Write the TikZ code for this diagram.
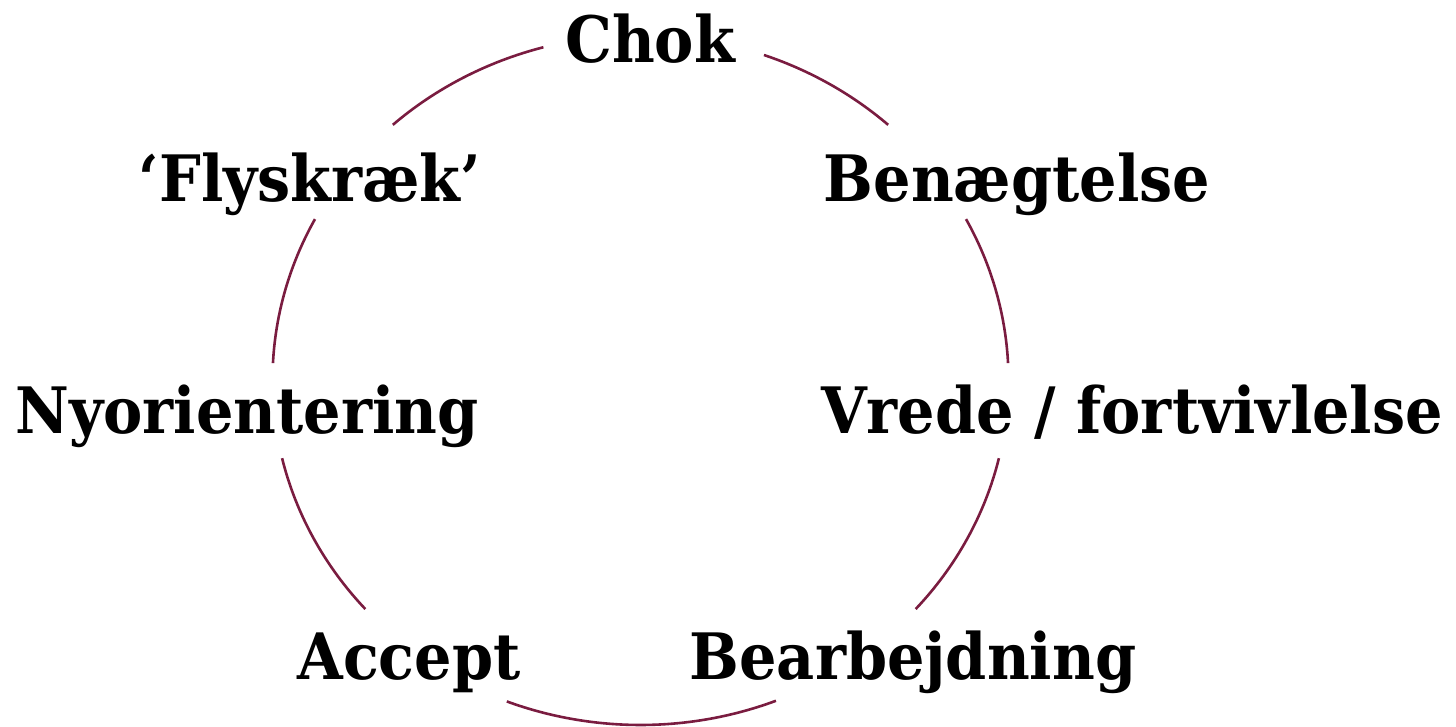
\documentclass[tikz,border=0pt]{standalone}
\usepackage{fontspec}
\newfontfamily\lblfont{DejaVu Serif}[FakeStretch=0.92]
\definecolor{ringcol}{RGB}{122,28,64}
\tikzset{
  lbl/.style={anchor=base, inner sep=0pt, font=\lblfont\bfseries\fontsize{64}{70}\selectfont},
  ring/.style={draw=ringcol, line width=2.6pt},
}
\newcommand{\cyclearc}[2]{\draw[ring] ([shift={(#1:368pt and 345pt)}]ctr) arc[start angle=#1, end angle=#2, x radius=368pt, y radius=345pt];}
\begin{document}
\begin{tikzpicture}[x=1pt,y=1pt]
\useasboundingbox (0,0) rectangle (1456,-726);
\coordinate (ctr) at (640.5,-380);
\node[lbl] (chok) at (650,-62) {Chok};
\node[lbl] (fly) at (310,-201) {‘Flyskræk’};
\node[lbl] (ben) at (1017,-201) {Benægtelse};
\node[lbl] (nyo) at (247,-433) {Nyorientering};
\node[lbl] (vre) at (1132,-433) {Vrede / fortvivlelse};
\node[lbl] (acc) at (409,-679) {Accept};
\node[lbl] (bea) at (913,-679) {Bearbejdning};
\cyclearc{47.7}{70.4}
\cyclearc{105.3}{132.3}
\cyclearc{152.2}{177.2}
\cyclearc{193.1}{221.6}
\cyclearc{248.7}{291.6}
\cyclearc{318.4}{346.9}
\cyclearc{2.8}{27.8}
\end{tikzpicture}
\end{document}
